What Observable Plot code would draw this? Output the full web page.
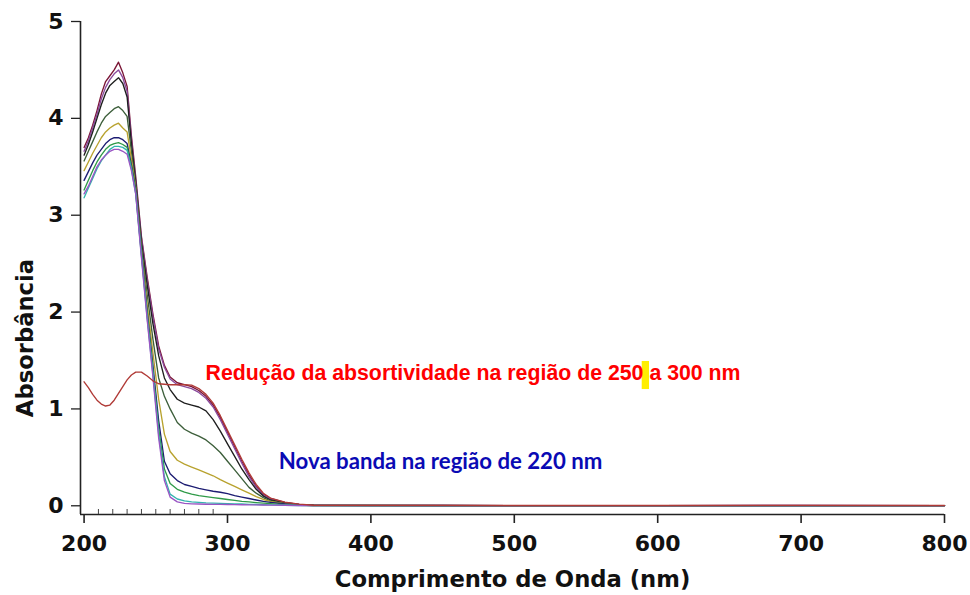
<!DOCTYPE html>
<html>
<head>
<meta charset="utf-8">
<script src="https://cdn.jsdelivr.net/npm/d3@7"></script>
<script src="https://cdn.jsdelivr.net/npm/@observablehq/plot@0.6"></script>
<style>
  html, body { margin: 0; padding: 0; background: #ffffff; }
  #chart { width: 970px; height: 595px; }
</style>
</head>
<body>
<div id="chart"></div>
<script>
// ---- data ----
const wl = [200,203,206,209,212,215,218,221,224,227,230,233,236,
            240,244,248,252,256,260,265,270,275,280,285,290,295,300,305,310,315,320,325,330,340,350,360,
            400,450,500,600,700,800];

const sA  = [3.70,3.80,3.93,4.08,4.25,4.38,4.44,4.50,4.58,4.47,4.33,3.82,3.40,
             2.78,2.36,1.98,1.65,1.45,1.33,1.27,1.25,1.23,1.19,1.13,1.04,0.91,0.76,0.61,0.46,0.32,0.20,0.12,0.075,0.035,0.015,0.006,
             0.004,0.003,0.002,0.002,0.003,0.002];
const sA2 = [3.66,3.77,3.90,4.04,4.20,4.32,4.40,4.46,4.50,4.42,4.28,3.78,3.36,
             2.76,2.33,1.95,1.62,1.43,1.31,1.25,1.23,1.21,1.17,1.11,1.02,0.89,0.74,0.59,0.44,0.30,0.19,0.11,0.07,0.032,0.014,0.005,
             0.004,0.003,0.002,0.002,0.003,0.002];
const sB  = [3.62,3.73,3.86,4.00,4.14,4.26,4.34,4.38,4.42,4.36,4.22,3.74,3.34,
             2.72,2.28,1.88,1.55,1.32,1.20,1.10,1.06,1.04,1.02,0.98,0.89,0.77,0.64,0.51,0.38,0.27,0.17,0.10,0.06,0.03,0.012,0.005,
             0.003,0.003,0.002,0.002,0.002,0.002];
const sC  = [3.56,3.66,3.76,3.86,3.95,4.02,4.06,4.10,4.12,4.08,4.02,3.66,3.30,
             2.68,2.18,1.72,1.32,1.13,1.00,0.86,0.79,0.75,0.72,0.68,0.62,0.55,0.46,0.37,0.28,0.19,0.13,0.085,0.05,0.025,0.01,0.004,
             0.003,0.002,0.002,0.002,0.002,0.002];
const sD  = [3.46,3.55,3.64,3.72,3.80,3.86,3.90,3.93,3.95,3.90,3.86,3.58,3.28,
             2.64,2.08,1.58,1.10,0.74,0.56,0.47,0.43,0.40,0.37,0.34,0.31,0.27,0.235,0.20,0.165,0.13,0.095,0.065,0.045,0.02,0.008,0.003,
             0.002,0.002,0.002,0.002,0.002,0.002];
const sE  = [3.36,3.45,3.54,3.62,3.68,3.74,3.78,3.80,3.80,3.78,3.74,3.52,3.26,
             2.62,2.00,1.45,0.88,0.46,0.33,0.26,0.22,0.20,0.18,0.165,0.15,0.14,0.125,0.105,0.09,0.075,0.06,0.045,0.035,0.018,0.008,0.003,
             0.002,0.002,0.002,0.002,0.002,0.002];
const sF  = [3.26,3.36,3.46,3.55,3.62,3.68,3.72,3.74,3.75,3.73,3.70,3.50,3.24,
             2.60,1.97,1.40,0.80,0.38,0.23,0.17,0.14,0.12,0.105,0.095,0.085,0.075,0.065,0.055,0.045,0.04,0.033,0.027,0.022,0.012,0.005,0.002,
             0.002,0.002,0.002,0.002,0.002,0.002];
const sG  = [3.18,3.28,3.38,3.48,3.56,3.62,3.68,3.71,3.71,3.70,3.67,3.48,3.22,
             2.58,1.94,1.36,0.74,0.30,0.12,0.07,0.05,0.04,0.035,0.03,0.028,0.025,0.022,0.02,0.018,0.015,0.013,0.011,0.01,0.006,0.003,0.001,
             0.001,0.001,0.001,0.001,0.001,0.001];
const sH  = [3.22,3.30,3.40,3.50,3.57,3.62,3.66,3.68,3.68,3.66,3.63,3.46,3.22,
             2.56,1.92,1.33,0.70,0.26,0.09,0.04,0.025,0.02,0.018,0.016,0.015,0.014,0.013,0.012,0.011,0.01,0.009,0.008,0.007,0.005,0.003,0.001,
             0.001,0.001,0.001,0.001,0.001,0.001];
const sRed = [1.28,1.22,1.15,1.09,1.05,1.03,1.04,1.09,1.16,1.23,1.30,1.35,1.38,
              1.38,1.34,1.29,1.26,1.255,1.25,1.25,1.25,1.245,1.21,1.15,1.06,0.93,0.78,0.63,0.48,0.34,0.22,0.13,0.08,0.038,0.017,0.006,
              0.004,0.004,0.003,0.003,0.004,0.003];

const seriesNames  = ["A","A2","B","C","D","E","F","G","H","Red"];
const seriesValues = [sA, sA2, sB, sC, sD, sE, sF, sG, sH, sRed];
const seriesColors = ["#7a1535","#8a4a9c","#1e1e1e","#3c5e3a","#b8a22e","#1c1c72","#2f9a48","#33b4ae","#9a55c4","#b03a36"];

const xTicks = [200,300,400,500,600,700,800];
const xMinorTicks = [210,220,230,240,250,260,270,280,290];
const yTicks = [0,1,2,3,4,5];

const xLabel = "Comprimento de Onda (nm)";
const yLabel = "Absorbância";

const annTexts  = ["Redução da absortividade na região de 250 a 300 nm", "Nova banda na região de 220 nm"];
const annX      = [284.7, 335.8];
const annY      = [1.364, 0.454];
const highlightX = [589.2, 594.3];
const highlightY = [1.20, 1.49];

// ---- build tidy table ----
const rows = [];
seriesNames.forEach((name, k) => {
  seriesValues[k].forEach((v, i) => rows.push({wl: wl[i], a: v, s: name}));
});
const annRed  = [{x: annX[0], y: annY[0], t: annTexts[0]}];
const annBlue = [{x: annX[1], y: annY[1], t: annTexts[1]}];
const hl = [{x1: highlightX[0], x2: highlightX[1], y1: highlightY[0], y2: highlightY[1]}];

const xDomain = [197.5, 800];
const yDomain = [-0.09, 5];

const chart = Plot.plot({
  width: 970,
  height: 595,
  marginLeft: 80,
  marginRight: 26,
  marginTop: 21,
  marginBottom: 81,
  x: {domain: xDomain},
  y: {domain: yDomain},
  color: {domain: seriesNames, range: seriesColors},
  style: {background: "#ffffff", fontFamily: "DejaVu Sans", color: "#111"},
  marks: [
    Plot.ruleX([xDomain[0]], {stroke: "#222", strokeWidth: 1.6}),
    Plot.ruleY([yDomain[0]], {stroke: "#222", strokeWidth: 1.6}),
    Plot.axisY({ticks: yTicks, tickFormat: d => String(d), tickSize: 9, tickPadding: 8, fontSize: 22, fontWeight: "bold",
                fontFamily: "DejaVu Sans", label: null, stroke: "#222", strokeWidth: 1.3}),
    Plot.axisX({ticks: xTicks, tickFormat: d => String(d), tickSize: 9, tickPadding: 12, fontSize: 22, fontWeight: "bold",
                fontFamily: "DejaVu Sans", label: null, stroke: "#222", strokeWidth: 1.6}),
    Plot.axisX({ticks: xMinorTicks, tickSize: -5, text: null, label: null, stroke: "#444", strokeWidth: 1}),
    Plot.line(rows, {x: "wl", y: "a", z: "s", stroke: "s", strokeWidth: 1.35, strokeLinejoin: "round"}),
    Plot.rect(hl, {x1: "x1", x2: "x2", y1: "y1", y2: "y2", fill: "#ffee00"}),
    Plot.text(annRed, {x: "x", y: "y", text: "t", fill: "#ff0000", fontSize: 21.3, fontWeight: "bold",
                       fontFamily: "Liberation Sans, Arial, sans-serif", textAnchor: "start", lineAnchor: "middle"}),
    Plot.text(annBlue, {x: "x", y: "y", text: "t", fill: "#0a0ab4", fontSize: 22.2, fontWeight: "bold",
                        fontFamily: "Lato, sans-serif", textAnchor: "start", lineAnchor: "middle"}),
    Plot.text([xLabel], {text: d => d, frameAnchor: "bottom", dy: 65.7, fontSize: 22.7, fontWeight: "bold",
                         fontFamily: "DejaVu Sans", fill: "#111", textAnchor: "middle", lineAnchor: "middle"}),
    Plot.text([yLabel], {text: d => d, frameAnchor: "left", dx: -54.3, dy: 70, rotate: -90, fontSize: 22.7,
                         fontWeight: "bold", fontFamily: "DejaVu Sans", fill: "#111", textAnchor: "middle", lineAnchor: "middle"})
  ]
});
document.getElementById("chart").appendChild(chart);
</script>
</body>
</html>
